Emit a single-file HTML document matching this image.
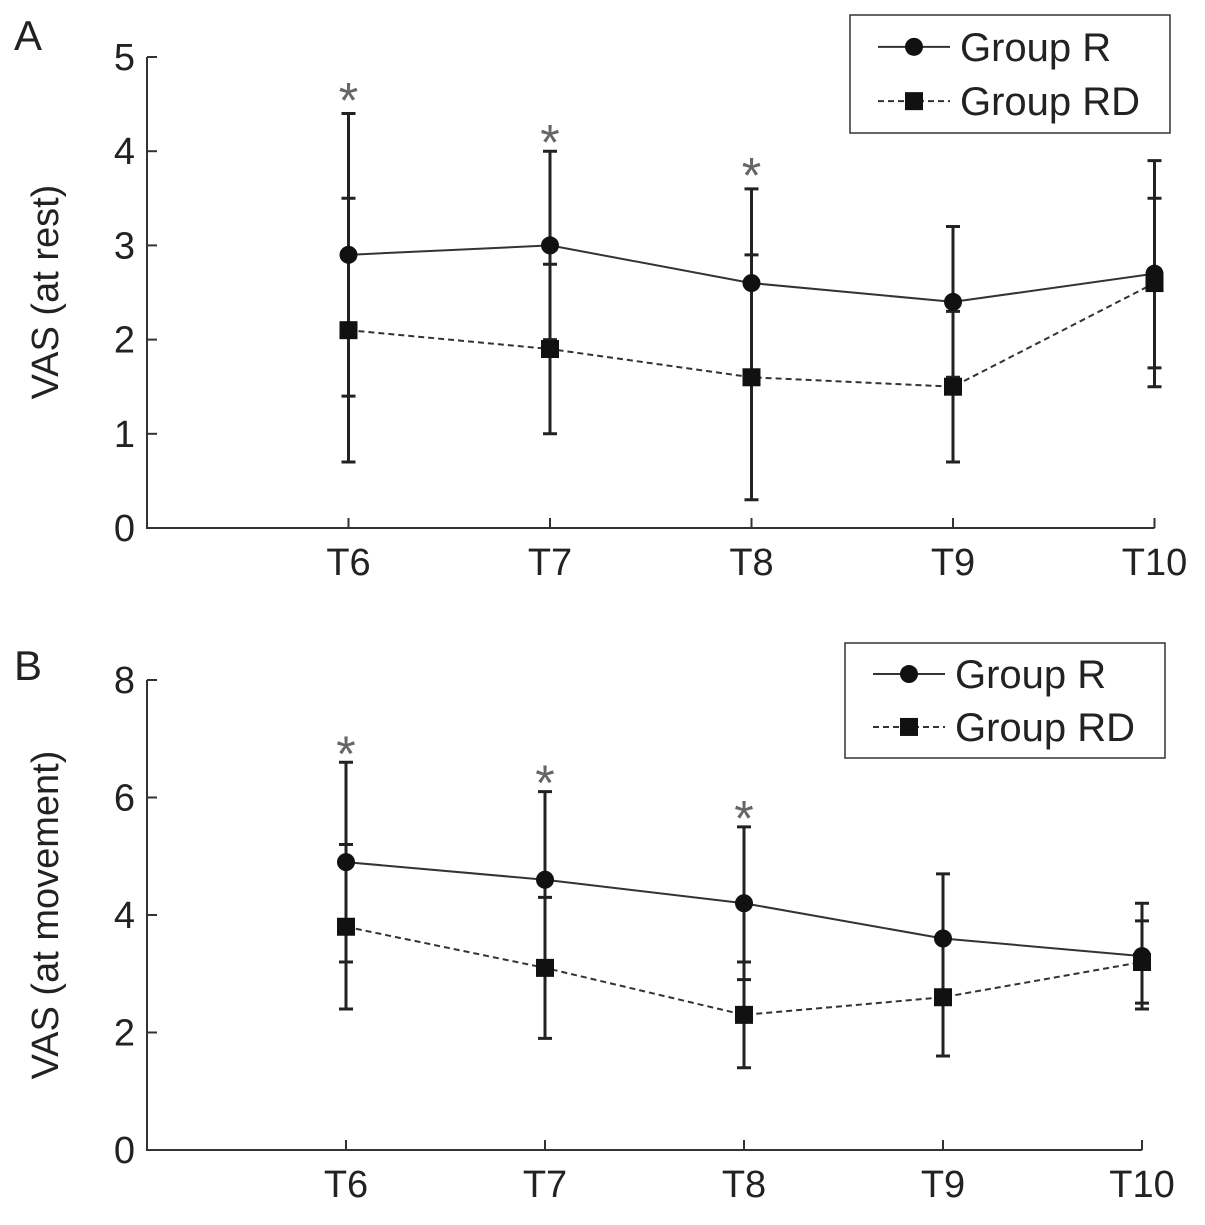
<!DOCTYPE html>
<html><head><meta charset="utf-8"><style>
body{margin:0;background:#fff;}
svg text{font-family:"Liberation Sans",sans-serif;fill:#222;}
</style></head><body>
<svg id="chart" width="1205" height="1220" xmlns="http://www.w3.org/2000/svg"></svg>
<script>
const categories = ["T6","T7","T8","T9","T10"];
const aR = [2.9,3.0,2.6,2.4,2.7];
const aRerr = [1.5,1.0,1.0,0.8,1.2];
const aRD = [2.1,1.9,1.6,1.5,2.6];
const aRDerr = [1.4,0.9,1.3,0.8,0.9];
const aStars = [4.7,4.25,3.9];
const aTicks = [0,1,2,3,4,5];
const bR = [4.9,4.6,4.2,3.6,3.3];
const bRerr = [1.7,1.5,1.3,1.1,0.9];
const bRD = [3.8,3.1,2.3,2.6,3.2];
const bRDerr = [1.4,1.2,0.9,1.0,0.7];
const bStars = [7.0,6.5,5.9];
const bTicks = [0,2,4,6,8];

const NS="http://www.w3.org/2000/svg";
const svg=document.getElementById('chart');
function mk(t,a,p){const e=document.createElementNS(NS,t);for(const k in a)e.setAttribute(k,a[k]);(p||svg).appendChild(e);return e;}

function panel(o){
  const g=mk('g',{});
  
  
  const x=i=>o.x0+o.dx*(i+1);
  const y=v=>o.y0-(v/o.ymax)*(o.y0-o.ytop);
  const ax=mk('path',{d:`M${o.x0},${o.ytop}V${o.y0}H${x(4)}`,stroke:'#333','stroke-width':2,fill:'none'},g);
  
  
  o.ticks.forEach(t=>{
    mk('line',{x1:o.x0,x2:o.x0+10,y1:y(t),y2:y(t),stroke:'#333','stroke-width':2},g);
    const tl=mk('text',{x:o.x0-12,y:y(t)+13,'font-size':38,'text-anchor':'end'},g);tl.textContent=t;
    
    
  });
  categories.forEach((c,i)=>{
    mk('line',{x1:x(i),x2:x(i),y1:o.y0,y2:o.y0-10,stroke:'#333','stroke-width':2},g);
    const tl=mk('text',{x:x(i),y:o.y0+47,'font-size':38,'text-anchor':'middle'},g);tl.textContent=c;
    
    
  });
  const yt=mk('text',{x:0,y:0,'font-size':38,'text-anchor':'middle',transform:`translate(${o.ytx},${o.yty}) rotate(-90)`},g);
  yt.textContent=o.ytitle;
  
  
  const pl=mk('text',{x:14,y:o.labY,'font-size':42},g);pl.textContent=o.label;
  
  
  function eb(vals,errs,nm){vals.forEach((v,i)=>{
    const e=mk('path',{d:`M${x(i)},${y(v-errs[i])}V${y(v+errs[i])}M${x(i)-7},${y(v-errs[i])}h14M${x(i)-7},${y(v+errs[i])}h14`,stroke:'#222','stroke-width':3,fill:'none'},g);
    
    
  });}
  eb(o.R,o.Rerr,'error-bar-group-r');
  eb(o.RD,o.RDerr,'error-bar-group-rd');
  const lr=mk('path',{d:o.R.map((v,i)=>(i?'L':'M')+x(i)+','+y(v)).join(''),stroke:'#333','stroke-width':2,fill:'none'},g);
  
  
  const ld=mk('path',{d:o.RD.map((v,i)=>(i?'L':'M')+x(i)+','+y(v)).join(''),stroke:'#333','stroke-width':2,'stroke-dasharray':'6,4',fill:'none'},g);
  
  
  o.R.forEach((v,i)=>{const c=mk('circle',{cx:x(i),cy:y(v),r:9,fill:'#111'},g);
    
    });
  o.RD.forEach((v,i)=>{const r=mk('rect',{x:x(i)-9,y:y(v)-9,width:18,height:18,fill:'#111'},g);
    
    });
  o.stars.forEach((v,i)=>{const s=mk('text',{x:x(i),y:y(v)+32,'font-size':50,'text-anchor':'middle',style:'fill:#666'},g);s.textContent='*';
    
    });
  const L=o.leg;
  const lg=mk('g',{},g);
  
  
  mk('rect',{x:L[0],y:L[1],width:L[2],height:L[3],fill:'#fff',stroke:'#333','stroke-width':1.5},lg);
  const r1=L[1]+L[3]*0.27, r2=L[1]+L[3]*0.73;
  mk('line',{x1:L[0]+28,x2:L[0]+100,y1:r1,y2:r1,stroke:'#333','stroke-width':2},lg);
  mk('circle',{cx:L[0]+64,cy:r1,r:9,fill:'#111'},lg);
  mk('line',{x1:L[0]+28,x2:L[0]+100,y1:r2,y2:r2,stroke:'#333','stroke-width':2,'stroke-dasharray':'6,4'},lg);
  mk('rect',{x:L[0]+55,y:r2-9,width:18,height:18,fill:'#111'},lg);
  const t1=mk('text',{x:L[0]+110,y:r1+14,'font-size':40},lg);t1.textContent='Group R';
  
  
  const t2=mk('text',{x:L[0]+110,y:r2+14,'font-size':40},lg);t2.textContent='Group RD';
  
  
}
panel({name:'panel-a',x0:147,dx:201.5,y0:528,ytop:57,ymax:5,ticks:aTicks,R:aR,Rerr:aRerr,RD:aRD,RDerr:aRDerr,stars:aStars,
  ytitle:'VAS (at rest)',ytx:58,yty:292,label:'A',labY:50,leg:[850,15,320,118]});
panel({name:'panel-b',x0:147,dx:199,y0:1150,ytop:680,ymax:8,ticks:bTicks,R:bR,Rerr:bRerr,RD:bRD,RDerr:bRDerr,stars:bStars,
  ytitle:'VAS (at movement)',ytx:58,yty:915,label:'B',labY:680,leg:[845,643,320,115]});
</script>
</body></html>
